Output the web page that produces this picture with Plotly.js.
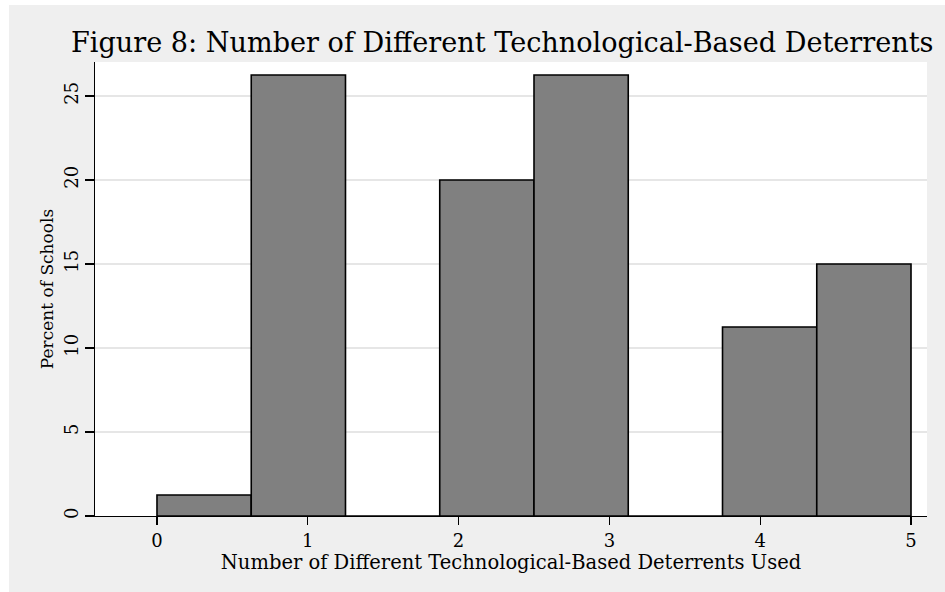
<!DOCTYPE html>
<html>
<head>
<meta charset="utf-8">
<script src="https://cdn.plot.ly/plotly-3.0.1.min.js"></script>
<style>
  html, body { margin: 0; padding: 0; background: #ffffff; width: 945px; height: 592px; overflow: hidden; }
  #chart { position: absolute; left: 9px; top: 5px; width: 936px; height: 587px; }
</style>
</head>
<body>
<div id="chart"></div>
<script>
// Histogram bins (width 0.625 across 0..5), centers and percents
const binCenters = [0.3125, 0.9375, 1.5625, 2.1875, 2.8125, 3.4375, 4.0625, 4.6875];
const binWidth = 0.625;
const percentSchools = [1.25, 26.25, 0, 20, 26.25, 0, 11.25, 15];
const xTickVals = [0, 1, 2, 3, 4, 5];
const yTickVals = [0, 5, 10, 15, 20, 25];

const titleText = "Figure 8: Number of Different Technological-Based Deterrents";
const xTitle = "Number of Different Technological-Based Deterrents Used";
const yTitle = "Percent of Schools";

const FONT = "DejaVu Serif, Liberation Serif, serif";

const trace = {
  type: 'bar',
  x: binCenters,
  y: percentSchools,
  width: binCenters.map(() => binWidth),
  marker: { color: '#808080', line: { color: '#000000', width: 1.6 } },
  hoverinfo: 'skip'
};

const layout = {
  width: 936, height: 587,
  paper_bgcolor: '#efefef',
  plot_bgcolor: '#ffffff',
  margin: { l: 86, r: 18, t: 57, b: 76, pad: 0 },
  showlegend: false,
  bargap: 0,
  title: {
    text: titleText,
    font: { family: FONT, size: 27.1, color: '#000000' },
    x: 62 / 936, xanchor: 'left', xref: 'container',
    y: 1 - 38 / 587, yanchor: 'middle', yref: 'container'
  },
  xaxis: {
    range: [-0.411, 5.106],
    tickvals: xTickVals,
    ticktext: xTickVals.map(String),
    ticks: 'outside', ticklen: 8, tickwidth: 1.3, tickcolor: '#000000',
    showline: true, linecolor: '#000000', linewidth: 1.3,
    showgrid: false, zeroline: false,
    tickfont: { family: FONT, size: 18, color: '#000000' },
    title: { text: xTitle, font: { family: FONT, size: 19.5, color: '#000000' }, standoff: 0 }
  },
  yaxis: {
    range: [0, 27.02],
    tickvals: yTickVals,
    ticktext: yTickVals.map(String),
    tickangle: -90,
    ticks: 'outside', ticklen: 9, tickwidth: 1.3, tickcolor: '#000000',
    showline: true, linecolor: '#000000', linewidth: 1.3,
    showgrid: true, gridcolor: '#e6e6e6', gridwidth: 1.5,
    zeroline: false,
    tickfont: { family: FONT, size: 18, color: '#000000' },
    title: { text: yTitle, font: { family: FONT, size: 17, color: '#000000' }, standoff: 2 }
  }
};

Plotly.newPlot('chart', [trace], layout, { displayModeBar: false, staticPlot: true });
</script>
</body>
</html>
